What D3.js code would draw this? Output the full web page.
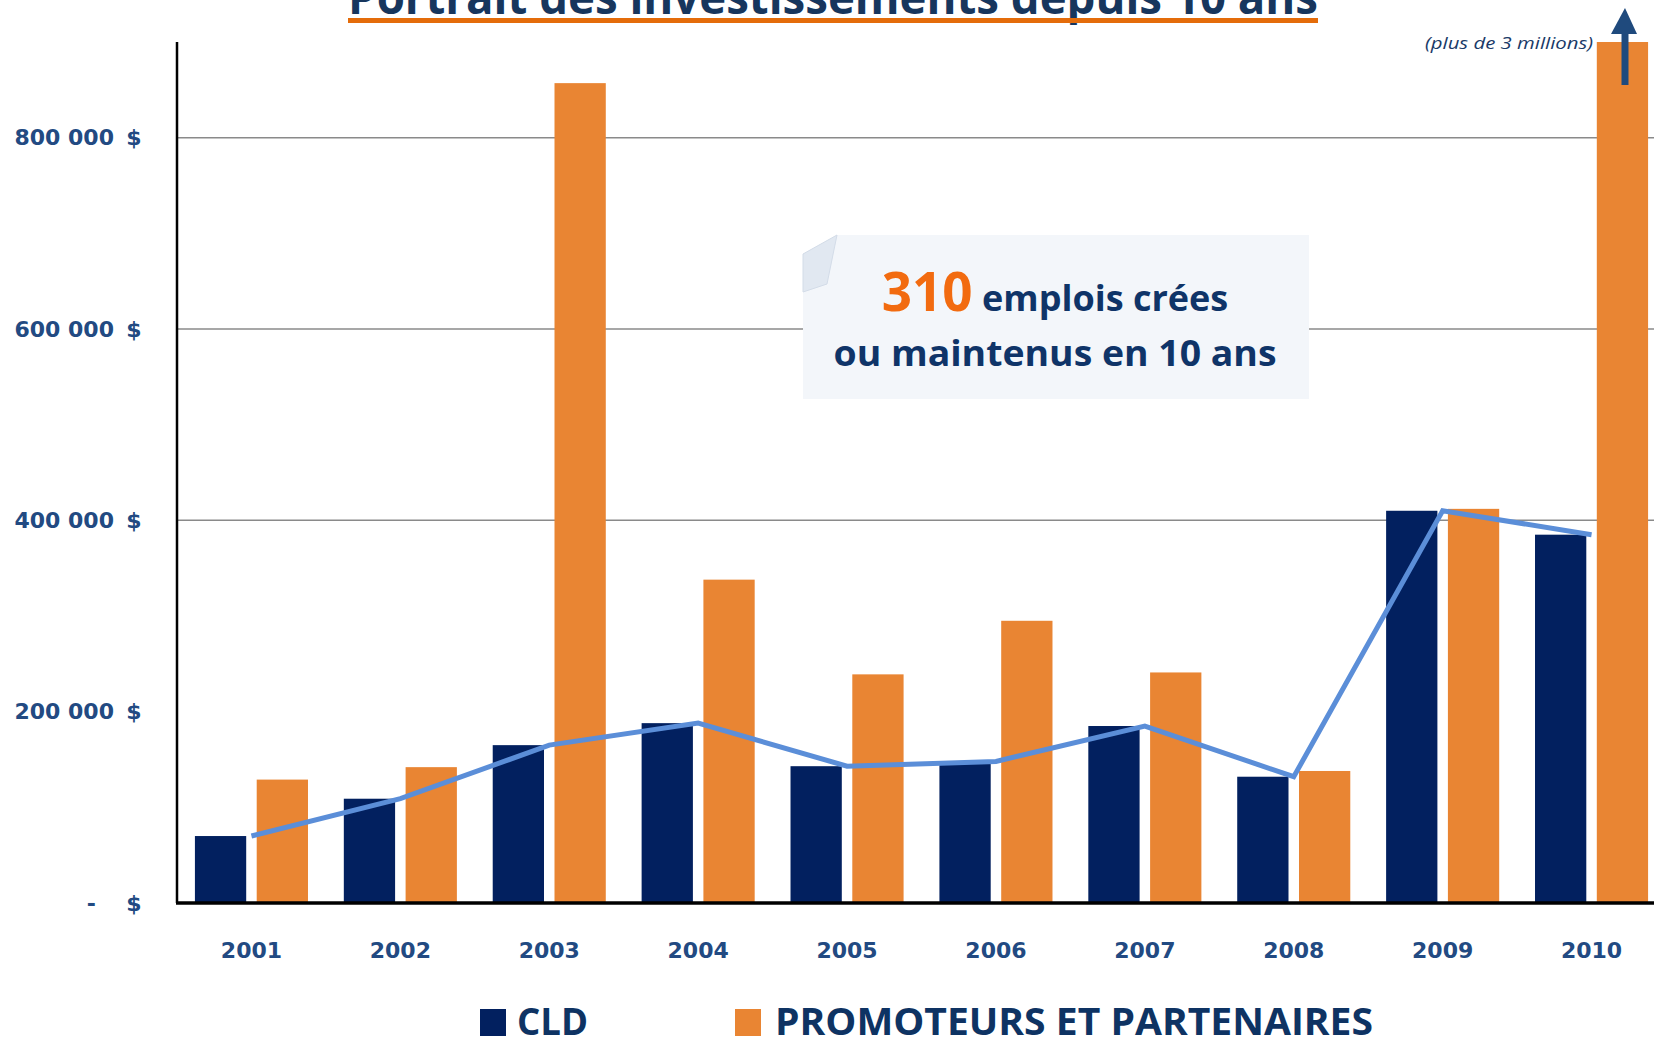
<!DOCTYPE html>
<html>
<head>
<meta charset="utf-8">
<script src="https://cdn.jsdelivr.net/npm/d3@7"></script>
<style>
  body { margin: 0; background: #fff; }
  svg { display: block; }
</style>
</head>
<body>
<svg id="chart" width="1654" height="1042"></svg>
<script>
// data
const years = ["2001", "2002", "2003", "2004", "2005", "2006", "2007", "2008", "2009", "2010"];
const cld = [70000, 109000, 165000, 188000, 143000, 148000, 185000, 132000, 410000, 385000];
const promoteurs = [129000, 142000, 857000, 338000, 239000, 295000, 241000, 138000, 412000, 3000000];
const yTicks = [0, 200000, 400000, 600000, 800000];
const gridTicks = [400000, 600000, 800000];
const seriesNames = ["CLD", "PROMOTEURS ET PARTENAIRES"];

const svg = d3.select("#chart");
const width = +svg.attr("width");

const navy = "#02205f";
const orange = "#e98533";
const labelColor = "#224a82";

const plotLeft = 177, plotTop = 42, plotBottom = 903;

const x = d3.scaleBand().domain(years).range([plotLeft, 1666]).padding(0);
const x1 = d3.scaleBand().domain(seriesNames).range([0, x.bandwidth()])
    .paddingInner(0.17).paddingOuter(0.29);
const y = d3.scaleLinear().domain([0, 900000]).range([plotBottom, plotTop]);

// clip so the 2010 bar stops at the top of the plot
svg.append("clipPath").attr("id", "plot")
  .append("rect").attr("x", plotLeft).attr("y", plotTop)
  .attr("width", width - plotLeft).attr("height", plotBottom - plotTop);

// grid lines
svg.append("g").selectAll("line")
  .data(gridTicks)
  .join("line")
    .attr("x1", plotLeft).attr("x2", width)
    .attr("y1", d => y(d)).attr("y2", d => y(d))
    .attr("stroke", "#8a8a8a").attr("stroke-width", 1.5);

// bars
const rows = years.map((yr, i) => ({ year: yr, vals: [cld[i], promoteurs[i]] }));
const bars = svg.append("g").attr("clip-path", "url(#plot)");
bars.selectAll("g")
  .data(rows)
  .join("g")
    .attr("transform", d => `translate(${x(d.year)},0)`)
  .selectAll("rect")
  .data(d => d.vals.map((v, k) => ({ key: seriesNames[k], v })))
  .join("rect")
    .attr("x", d => x1(d.key))
    .attr("width", x1.bandwidth())
    .attr("y", d => y(d.v))
    .attr("height", d => plotBottom - y(d.v))
    .attr("fill", d => d.key === "CLD" ? navy : orange);

// callout box
const box = svg.append("g");
box.append("rect").attr("x", 803).attr("y", 235).attr("width", 506).attr("height", 164).attr("fill", "#f3f6fa");
box.append("path")
  .attr("d", "M803,235 L837,235 L803,254 Z")
  .attr("fill", "#fff");
box.append("path")
  .attr("d", "M803,254 L837,235 L827,284 L803,292 Z")
  .attr("fill", "#e1e8f1").attr("stroke", "#d3dce8").attr("stroke-width", 1);
const t1 = box.append("text")
  .attr("x", 1055).attr("y", 311)
  .attr("text-anchor", "middle")
  .style("font-family", "'Open Sans', sans-serif")
  .style("font-weight", "bold");
t1.append("tspan").attr("fill", "#f26b10").style("font-size", "53px").text("310");
t1.append("tspan").attr("fill", "#0f3468").style("font-size", "36px").text(" emplois crées");
box.append("text")
  .attr("x", 1055).attr("y", 366)
  .attr("text-anchor", "middle")
  .attr("fill", "#0f3468")
  .style("font-family", "'Open Sans', sans-serif")
  .style("font-weight", "bold")
  .style("font-size", "35px")
  .attr("textLength", 443).attr("lengthAdjust", "spacingAndGlyphs")
  .text("ou maintenus en 10 ans");

// line over the bars (CLD)
const line = d3.line()
  .x((d, i) => x(years[i]) + x.bandwidth() / 2)
  .y(d => y(d));
svg.append("path")
  .datum(cld)
  .attr("d", line)
  .attr("fill", "none")
  .attr("stroke", "#5b8ed8")
  .attr("stroke-width", 5);

// axes
const fmt = v => v === 0 ? "-" : d3.format(",")(v).replace(/,/g, " ");
const yAxis = svg.append("g")
  .attr("transform", `translate(114,0)`)
  .call(d3.axisLeft(y).tickValues(yTicks).tickSize(0).tickPadding(0).tickFormat(fmt));
yAxis.select(".domain").remove();
yAxis.selectAll(".tick text")
  .attr("fill", labelColor)
  .attr("dx", d => d === 0 ? "-18px" : "0")
  .style("font-family", "'DejaVu Sans', Verdana, sans-serif")
  .style("font-weight", "bold")
  .style("font-size", "22px");
yAxis.selectAll(".tick").append("text")
  .attr("x", 20).attr("dy", "0.32em")
  .attr("text-anchor", "middle")
  .attr("fill", labelColor)
  .style("font-family", "'DejaVu Sans', Verdana, sans-serif")
  .style("font-weight", "bold")
  .style("font-size", "22px")
  .text("$");

const xAxis = svg.append("g")
  .attr("transform", `translate(0,${plotBottom})`)
  .call(d3.axisBottom(x).tickSize(0).tickPadding(39));
xAxis.select(".domain").remove();
xAxis.selectAll(".tick text")
  .attr("fill", labelColor)
  .style("font-family", "'DejaVu Sans', Verdana, sans-serif")
  .style("font-weight", "bold")
  .style("font-size", "22px");

svg.append("line")
  .attr("x1", plotLeft).attr("x2", plotLeft).attr("y1", plotTop).attr("y2", plotBottom)
  .attr("stroke", "#000").attr("stroke-width", 2.5);
svg.append("line")
  .attr("x1", plotLeft - 1).attr("x2", width).attr("y1", plotBottom).attr("y2", plotBottom)
  .attr("stroke", "#000").attr("stroke-width", 3.5);

// title (cut by the top edge, as in the source)
svg.append("text")
  .attr("x", 348).attr("y", 14)
  .attr("fill", "#17365d")
  .style("font-family", "'Liberation Sans Narrow', 'Open Sans', sans-serif")
  .style("font-weight", "bold")
  .style("font-size", "46px")
  .attr("textLength", 970).attr("lengthAdjust", "spacingAndGlyphs")
  .text("Portrait des investissements depuis 10 ans");
svg.append("rect").attr("x", 348).attr("y", 18).attr("width", 970).attr("height", 5).attr("fill", "#e46c0a");

// note for the 2010 bar
svg.append("text")
  .attr("x", 1593).attr("y", 49)
  .attr("text-anchor", "end")
  .attr("fill", "#1a3a68")
  .style("font-family", "'Open Sans', sans-serif")
  .style("font-style", "italic")
  .style("font-size", "16px")
  .attr("textLength", 168).attr("lengthAdjust", "spacingAndGlyphs")
  .text("(plus de 3 millions)");
svg.append("line")
  .attr("x1", 1625).attr("x2", 1625).attr("y1", 85).attr("y2", 28)
  .attr("stroke", "#1f4a7d").attr("stroke-width", 7);
svg.append("path")
  .attr("d", "M1611,34 L1625,8 L1637,34 Z")
  .attr("fill", "#1f4a7d");

// legend
const legend = svg.append("g");
const legendItems = [
  { name: seriesNames[0], color: navy, sx: 480, tx: 517, len: 71 },
  { name: seriesNames[1], color: orange, sx: 735, tx: 775, len: 598 }
];
legend.selectAll("rect")
  .data(legendItems)
  .join("rect")
    .attr("x", d => d.sx).attr("y", 1009)
    .attr("width", 26).attr("height", 27)
    .attr("fill", d => d.color);
legend.selectAll("text")
  .data(legendItems)
  .join("text")
    .attr("x", d => d.tx).attr("y", 1035)
    .attr("fill", "#0e3363")
    .style("font-family", "'Liberation Sans Narrow', 'Open Sans', sans-serif")
    .style("font-weight", "bold")
    .style("font-size", "37px")
    .attr("textLength", d => d.len).attr("lengthAdjust", "spacingAndGlyphs")
    .text(d => d.name);
</script>
</body>
</html>
